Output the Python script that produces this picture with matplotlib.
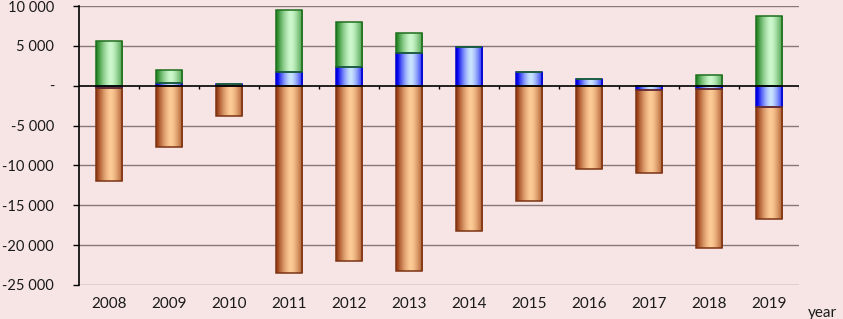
import numpy as np
import matplotlib
matplotlib.use("Agg")
import matplotlib.pyplot as plt
from matplotlib.colors import LinearSegmentedColormap

years = ["2008", "2009", "2010", "2011", "2012", "2013", "2014", "2015", "2016", "2017", "2018", "2019"]
blue_vals = [-300, 400, 200, 1700, 2400, 4100, 4800, 1700, 850, -600, -400, -2700]
green_vals = [5600, 1600, 0, 7800, 5600, 2500, 0, 0, 0, 0, 1400, 8800]
orange_vals = [-11600, -7700, -3800, -23500, -22000, -23300, -18200, -14500, -10400, -10300, -20000, -14000]
yticks = [10000, 5000, 0, -5000, -10000, -15000, -20000, -25000]
ytick_labels = ["10 000", "5 000", "-", "-5 000", "-10 000", "-15 000", "-20 000", "-25 000"]

plt.rcParams['font.family'] = ['Lato', 'DejaVu Sans']
BG = "#F7E5E5"
fig = plt.figure(figsize=(8.43, 3.19), dpi=100, facecolor=BG)
ax = fig.add_axes([79/843, 1-285/319, 720/843, 279/319], facecolor=BG)

x = np.arange(len(years))
width = 0.44
b = np.array(blue_vals, float)
g = np.array(green_vals, float)
o = np.array(orange_vals, float)
pos_base = np.where(b > 0, b, 0)
neg_base = np.where(b < 0, b, 0)

series = [
    (b, np.zeros_like(b), "#0000EE", "#C9E4FF", "#0000CC"),
    (g, pos_base, "#2A8A2A", "#CDF8CD", "#1E6E1E"),
    (o, neg_base, "#9C4119", "#FDCB95", "#7A3312"),
]

u = np.linspace(0, 1, 64)
prof = 1 - np.abs(2*u - 1.1)**1.5
prof = np.clip(prof, 0, 1)
grad = prof[np.newaxis, :]

for vals, bottom, dark, light, edge in series:
    cmap = LinearSegmentedColormap.from_list("c", [dark, light])
    bars = ax.bar(x, vals, width, bottom=bottom, facecolor="none",
                  edgecolor=edge, linewidth=1.1, zorder=4)
    for rect in bars:
        h = rect.get_height()
        if h == 0:
            continue
        x0 = rect.get_x(); w = rect.get_width(); y0 = rect.get_y()
        im = ax.imshow(grad, cmap=cmap, vmin=0, vmax=1, aspect='auto',
                       extent=[x0, x0 + w, min(y0, y0 + h), max(y0, y0 + h)],
                       interpolation='bilinear', zorder=3)
        im.set_clip_path(rect)

ax.set_xlim(-0.5, len(years) - 0.5)
ax.set_ylim(-25000, 10000)

# grid
for yv in yticks:
    if yv != 0:
        ax.axhline(yv, color="#8A7878", linewidth=1.0, zorder=1)
ax.axhline(0, color="black", linewidth=1.2, zorder=5)
bounds = np.arange(0.5, len(years) - 0.5 + 1, 1.0)
ax.vlines(bounds, -450, 0, color="black", linewidth=1.0, zorder=5)

for s in ["top", "right", "bottom"]:
    ax.spines[s].set_visible(False)
ax.spines["left"].set_color("black")
ax.spines["left"].set_linewidth(1.2)

ax.set_yticks(yticks)
ax.set_yticklabels(ytick_labels)
ax.tick_params(axis='y', length=4, width=1, direction='out', pad=14, labelsize=10.5, colors="black")
ax.set_xticks(x)
ax.set_xticklabels(years)
ax.tick_params(axis='x', length=0, pad=9, labelsize=11)
for lab in ax.get_yticklabels() + ax.get_xticklabels():
    lab.set_color("#1a1a1a")

fig.text(808/843, 1 - 313/319, "year", fontsize=11, va='center', ha='left', color="#1a1a1a")

fig.savefig("out.png", dpi=100, facecolor=BG)
